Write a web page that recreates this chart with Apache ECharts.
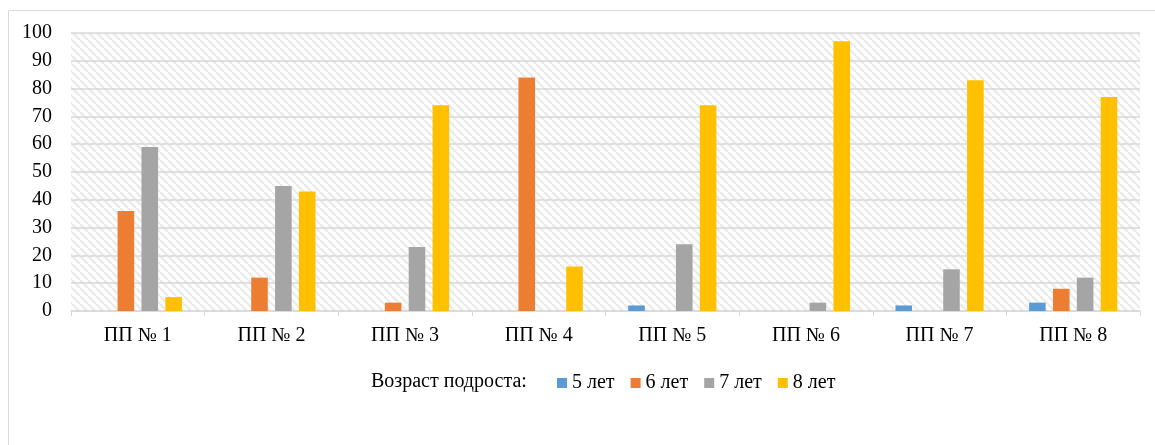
<!DOCTYPE html>
<html>
<head>
<meta charset="utf-8">
<script src="https://cdn.jsdelivr.net/npm/echarts@6/dist/echarts.min.js"></script>
<style>
  html, body { margin: 0; padding: 0; background: #fff; }
  #chart { width: 1155px; height: 445px; }
</style>
</head>
<body>
<div id="chart"></div>
<script>
// Plots and values
const categories = ['ПП № 1', 'ПП № 2', 'ПП № 3', 'ПП № 4', 'ПП № 5', 'ПП № 6', 'ПП № 7', 'ПП № 8'];
const age5 = [0, 0, 0, 0, 2, 0, 2, 3];
const age6 = [36, 12, 3, 84, 0, 0, 0, 8];
const age7 = [59, 45, 23, 0, 24, 3, 15, 12];
const age8 = [5, 43, 74, 16, 74, 97, 83, 77];
const seriesNames = ['5 лет', '6 лет', '7 лет', '8 лет'];
const legendTitle = 'Возраст подроста:';

const colors = ['#5B9BD5', '#ED7D31', '#A5A5A5', '#FFC000'];
const FONT = '"Liberation Serif", serif';

// Downward diagonal hatch for the plot background
function makeHatch() {
  const c = document.createElement('canvas');
  const s = 8;
  c.width = s; c.height = s;
  const ctx = c.getContext('2d');
  ctx.fillStyle = '#ffffff';
  ctx.fillRect(0, 0, s, s);
  ctx.strokeStyle = '#ebebeb';
  ctx.lineWidth = 2.5;
  for (let k = -1; k <= 1; k++) {
    ctx.beginPath();
    ctx.moveTo(k * s, 0);
    ctx.lineTo(k * s + s, s);
    ctx.stroke();
  }
  return c;
}

const chart = echarts.init(document.getElementById('chart'), null, { renderer: 'canvas' });

const data = [age5, age6, age7, age8];
const serifText = { fontFamily: FONT, fontSize: 20, color: '#000' };

chart.setOption({
  animation: false,
  backgroundColor: '#ffffff',
  color: colors,
  textStyle: { fontFamily: FONT },
  grid: {
    left: 71, right: 15, top: 33, bottom: 134,
    show: true,
    borderWidth: 0,
    backgroundColor: { image: makeHatch(), repeat: 'repeat' }
  },
  graphic: [
    {
      type: 'rect',
      shape: { x: 8.5, y: 10.5, width: 1160, height: 450 },
      style: { fill: null, stroke: '#d9d9d9', lineWidth: 1 },
      silent: true
    },
    {
      type: 'text',
      left: 371, top: 372,
      style: { text: legendTitle, font: '20px ' + FONT, fill: '#000' }
    }
  ],
  legend: {
    left: 552, top: 368,
    icon: 'rect',
    itemWidth: 10, itemHeight: 10,
    itemGap: 16,
    data: seriesNames,
    formatter: '{s|{name}}',
    textStyle: Object.assign({}, serifText, { rich: { s: serifText } })
  },
  xAxis: {
    type: 'category',
    data: categories,
    axisLine: { lineStyle: { color: '#d9d9d9', width: 1.5 } },
    axisTick: { show: true, length: 5, lineStyle: { color: '#d9d9d9' } },
    axisLabel: { fontFamily: FONT, fontSize: 20, color: '#000', margin: 15 }
  },
  yAxis: {
    type: 'value',
    min: 0, max: 100, interval: 10,
    axisLine: { show: false },
    axisTick: { show: false },
    splitLine: { lineStyle: { color: '#d9d9d9', width: 1.5 } },
    axisLabel: { fontFamily: FONT, fontSize: 20, color: '#000', margin: 19 }
  },
  series: seriesNames.map((name, i) => ({
    type: 'bar',
    name: name,
    data: data[i],
    barGap: '44%',
    barCategoryGap: '34%',
    itemStyle: { color: colors[i] }
  }))
});
</script>
</body>
</html>
